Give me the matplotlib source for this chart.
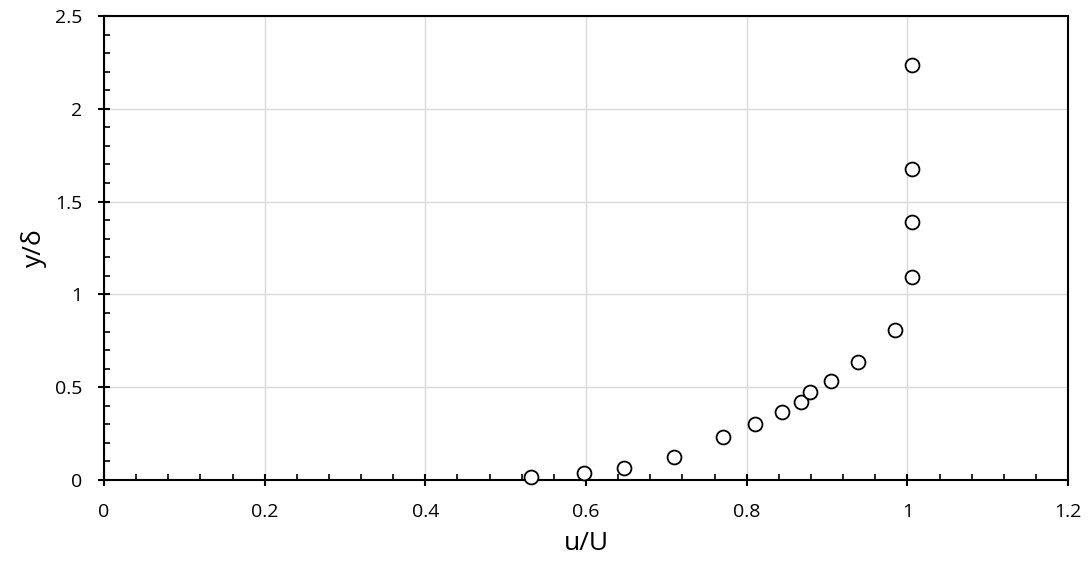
import matplotlib.pyplot as plt
from matplotlib.ticker import MultipleLocator

plt.rcParams['font.family'] = ['Open Sans', 'DejaVu Sans']

u_U = [0.531, 0.598, 0.647, 0.710, 0.771, 0.810, 0.844, 0.867, 0.879,
       0.905, 0.939, 0.985, 1.006, 1.006, 1.006, 1.006]
y_delta = [0.018, 0.036, 0.067, 0.126, 0.233, 0.303, 0.364, 0.422, 0.473,
           0.536, 0.635, 0.810, 1.092, 1.388, 1.673, 2.234]

x_ticks = [0, 0.2, 0.4, 0.6, 0.8, 1.0, 1.2]
x_labels = ['0', '0.2', '0.4', '0.6', '0.8', '1', '1.2']
y_ticks = [0, 0.5, 1.0, 1.5, 2.0, 2.5]
y_labels = ['0', '0.5', '1', '1.5', '2', '2.5']

fig = plt.figure(figsize=(10.91, 5.63), dpi=100)
ax = fig.add_axes([0.0953, 0.1474, 0.8837, 0.8242])

ax.plot(u_U, y_delta, 'o', markersize=10, markerfacecolor='white',
        markeredgecolor='black', markeredgewidth=1.3, zorder=3, clip_on=False)

ax.set_xlim(0, 1.2)
ax.set_ylim(0, 2.5)
ax.set_xticks(x_ticks)
ax.set_xticklabels(x_labels)
ax.set_yticks(y_ticks)
ax.set_yticklabels(y_labels)
ax.xaxis.set_minor_locator(MultipleLocator(0.04))
ax.yaxis.set_minor_locator(MultipleLocator(0.1))

ax.grid(True, which='major', color='#d9d9d9', linewidth=1.0)
ax.set_axisbelow(True)

for s in ax.spines.values():
    s.set_linewidth(1.5)
    s.set_color('black')

ax.tick_params(which='major', direction='inout', length=9, width=1.5,
               labelsize=14)
ax.tick_params(axis='x', which='major', pad=12)
ax.tick_params(axis='y', which='major', pad=11)
ax.tick_params(which='minor', direction='in', length=4, width=1.2)

ax.set_xlabel('u/U', fontsize=19, labelpad=7)
ax.set_ylabel('y/δ', fontsize=19, labelpad=6)

fig.savefig('out.png', dpi=100)
